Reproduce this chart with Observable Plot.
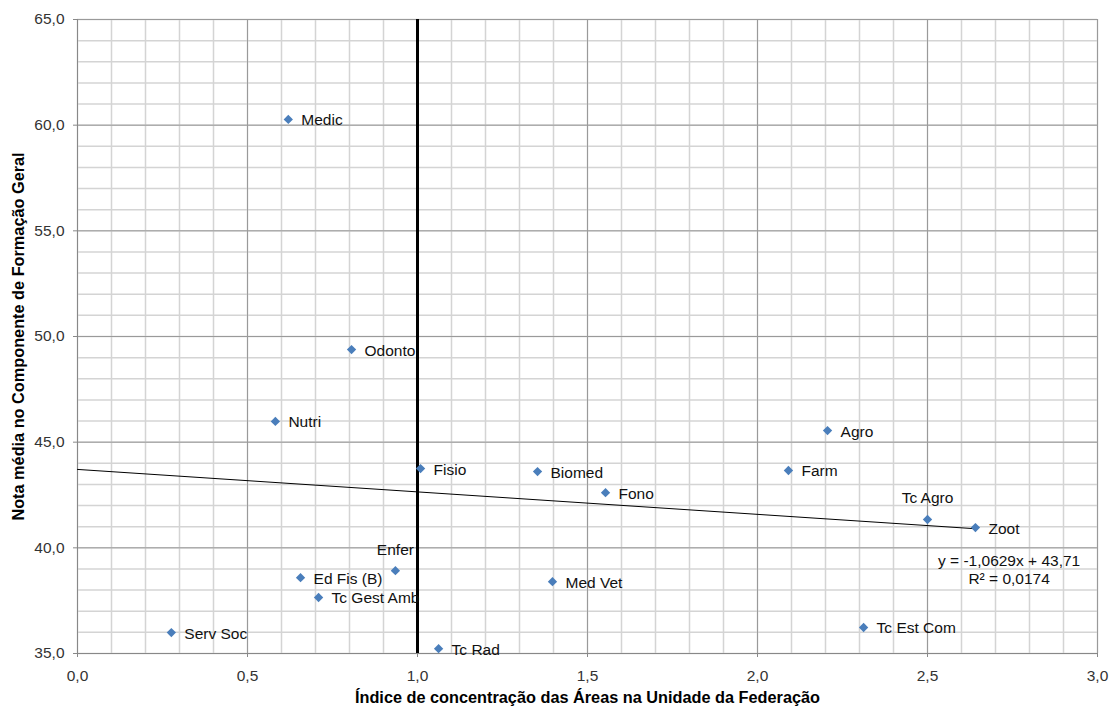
<!DOCTYPE html>
<html><head><meta charset="utf-8">
<script src="https://cdn.jsdelivr.net/npm/d3@7"></script>
<script src="https://cdn.jsdelivr.net/npm/@observablehq/plot@0.6"></script>
<style>
body{margin:0;background:#fff;}
svg [aria-label="y-axis label"] text, svg [aria-label="x-axis label"] text {font-weight:bold; fill:#000; font-size:16.3px;}
</style>
</head><body><div id="chart"></div>
<script>
const areas  = ["Medic","Odonto","Nutri","Fisio","Biomed","Fono","Agro","Farm","Tc Agro","Zoot","Enfer","Ed Fis (B)","Tc Gest Amb","Med Vet","Serv Soc","Tc Rad","Tc Est Com"];
const indice = [0.62, 0.806, 0.582, 1.009, 1.353, 1.553, 2.206, 2.091, 2.50, 2.641, 0.935, 0.656, 0.709, 1.397, 0.276, 1.062, 2.312];
const nota   = [60.27, 49.38, 45.98, 43.75, 43.61, 42.61, 45.55, 43.66, 41.34, 40.96, 38.92, 38.59, 37.65, 38.40, 35.99, 35.23, 36.23];
const labelAbove = ["Tc Agro","Enfer"];
const slope = -1.0629, intercept = 43.71, r2 = 0.0174;
const xTicks = [0, 0.5, 1.0, 1.5, 2.0, 2.5, 3.0];
const yTicks = [35, 40, 45, 50, 55, 60, 65];
const refX = 1.0;
const eqPos = {x: 2.74, y: 38.97};

const fmt = d => d.toFixed(1).replace(".", ",");
const data = areas.map((a, i) => ({area: a, x: indice[i], y: nota[i]}));
const xMax = d3.max(indice);
const trend = [0, xMax].map(x => ({x, y: intercept + slope * x}));
const eqText = `y = ${slope.toFixed(4).replace(".", ",")}x + ${intercept.toFixed(2).replace(".", ",")}\nR² = ${r2.toFixed(4).replace(".", ",")}`;

const chart = Plot.plot({
  width: 1113, height: 708,
  marginLeft: 77, marginRight: 16, marginTop: 19, marginBottom: 55,
  style: {fontFamily: "'Liberation Sans', Arial, sans-serif", fontSize: "15.5px", color: "#333", background: "#fff"},
  x: {domain: [0, 3]},
  y: {domain: [35, 65]},
  marks: [
    Plot.ruleX(d3.range(0, 3.0001, 0.1), {stroke: "#d4d4d4", strokeWidth: 1.5}),
    Plot.ruleY(d3.range(35, 65.0001, 1), {stroke: "#d4d4d4", strokeWidth: 1.5}),
    Plot.ruleX(xTicks, {stroke: "#9a9a9a", strokeWidth: 1}),
    Plot.ruleY(yTicks, {stroke: "#9a9a9a", strokeWidth: 1}),
    Plot.ruleX([0], {stroke: "#888"}),
    Plot.ruleY([35], {stroke: "#888"}),
    Plot.axisX(xTicks, {tickFormat: fmt, tickSize: 4, tickPadding: 12, stroke: "#888", fill: "#333",
      label: "Índice de concentração das Áreas na Unidade da Federação", labelAnchor: "center", labelArrow: "none", labelOffset: 49}),
    Plot.axisY(yTicks, {tickFormat: fmt, tickSize: 4, tickPadding: 9, stroke: "#888", fill: "#333",
      label: "Nota média no Componente de Formação Geral", labelAnchor: "center", labelArrow: "none", labelOffset: 65}),
    Plot.ruleX([refX], {stroke: "#000", strokeWidth: 3}),
    Plot.line(trend, {x: "x", y: "y", stroke: "#000", strokeWidth: 1}),
    Plot.dot(data, {x: "x", y: "y", symbol: "diamond2", r: 4.2, fill: "#4A7EBB", stroke: "none"}),
    Plot.text(data.filter(d => !labelAbove.includes(d.area)), {x: "x", y: "y", text: "area", textAnchor: "start", dx: 13, dy: 1, fill: "#111"}),
    Plot.text(data.filter(d => labelAbove.includes(d.area)), {x: "x", y: "y", text: "area", textAnchor: "middle", dy: -21, fill: "#111"}),
    Plot.text([eqPos], {x: "x", y: "y", text: () => eqText, textAnchor: "middle", lineHeight: 1.15, fill: "#111"})
  ]
});
document.getElementById("chart").appendChild(chart);
</script>
</body></html>
